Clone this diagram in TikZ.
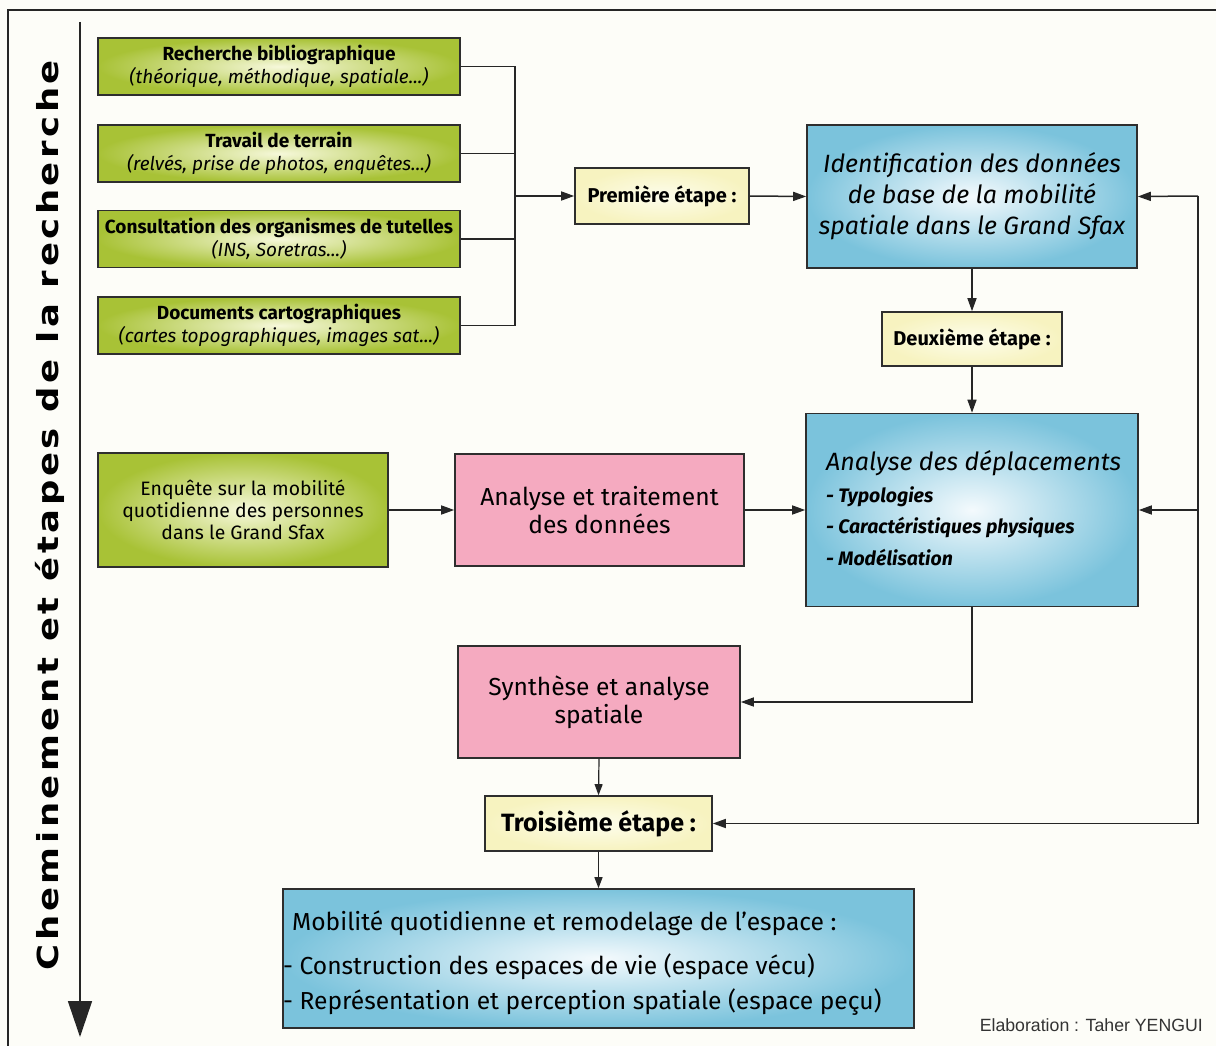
\documentclass[tikz,border=0pt]{standalone}
\usepackage{fontspec}
\setmainfont{Fira Sans}
\newfontfamily\sidefont[LetterSpace=10]{DejaVu Sans}
\newfontfamily\footfont{Liberation Sans}
\usetikzlibrary{arrows.meta}
\definecolor{bgcol}{HTML}{FDFDF8}
\definecolor{boxline}{HTML}{2E2E2E}
\definecolor{greenout}{HTML}{A8C236}
\definecolor{greenin}{HTML}{F6F8DA}
\definecolor{pinkfill}{HTML}{F5AAC0}
\definecolor{blueout}{HTML}{7BC3DC}
\definecolor{bluein}{HTML}{F4FAFD}
\definecolor{yelout}{HTML}{F7F3C0}
\definecolor{yelin}{HTML}{FDFDEC}
\begin{document}
\begin{tikzpicture}[x=1pt,y=-1pt,
  box/.style={draw=boxline, line width=1.6pt, inner sep=0pt, align=center, text=black},
  greenbox/.style={box, inner color=greenin, outer color=greenout, minimum width=362pt, minimum height=57pt, font={\fontsize{19}{23}\selectfont}},
  pinkbox/.style={box, fill=pinkfill, font={\fontsize{24.6}{28}\selectfont}},
  bluebox/.style={box, inner color=bluein, outer color=blueout},
  yelbox/.style={box, inner color=yelin, outer color=yelout, font={\fontsize{20}{24}\selectfont\bfseries}},
  txt/.style={inner sep=0pt, text=black},
  arr/.style={line width=1.5pt, draw=black!85, -{Triangle[length=13pt,width=9pt]}},
  arrs/.style={line width=1.2pt, draw=black!85, -{Triangle[length=11pt,width=8pt]}},
  ln/.style={line width=1.5pt, draw=black!85}
]
\fill[bgcol] (0,0) rectangle (1216,1046);
\useasboundingbox (0,0) rectangle (1216,1046);
% frame
\draw[line width=1.5pt, black!85] (8,1046) -- (8,10) -- (1216,10);
% side axis
\draw[line width=1.6pt, black!85, -{Triangle[length=36pt,width=24pt]}] (80,22) -- (80,1037);
\node[rotate=90, anchor=base, inner sep=0pt] (side) at (58,515)
  {\resizebox{910pt}{\height}{\sidefont\bfseries\fontsize{29}{30}\selectfont Cheminement et étapes de la recherche}};

% green boxes
\node[greenbox] (g1) at (279,66.5) {{\bfseries Recherche bibliographique}\\{\itshape (théorique, méthodique, spatiale...)}};
\node[greenbox] (g2) at (279,153.5) {{\bfseries Travail de terrain}\\{\itshape (relvés, prise de photos, enquêtes...)}};
\node[greenbox] (g3) at (279,239) {{\bfseries Consultation des organismes de tutelles}\\{\itshape (INS, Soretras...)}};
\node[greenbox] (g4) at (279,325.5) {{\bfseries Documents cartographiques}\\{\itshape (cartes topographiques, images sat...)}};
\coordinate (bus) at (515,196);
\draw[ln] (g1.east) -- (g1.east -| bus) -- (g4.east -| bus) -- (g4.east);
\draw[ln] (g2.east) -- (g2.east -| bus);
\draw[ln] (g3.east) -- (g3.east -| bus);

\node[yelbox, minimum width=174pt, minimum height=56pt] (prem) at (662,196) {Première étape :};
\draw[arr] (bus) -- (prem.west);

\node[bluebox, minimum width=330pt, minimum height=143pt, font={\fontsize{25}{31}\selectfont\itshape}] (ident) at (972,196.5)
  {Identification des données\\de base de la mobilité\\spatiale dans le Grand Sfax};
\draw[arr] (prem.east) -- (ident.west);

\node[yelbox, minimum width=180pt, minimum height=54pt] (deux) at (972,339) {Deuxième étape :};
\draw[arr] (ident.south) -- (deux.north);

\node[bluebox, minimum width=332pt, minimum height=193pt] (ana) at (972,510) {};
\node[txt, anchor=base west, align=left, font={\fontsize{19.5}{31.5}\selectfont\bfseries\itshape}] (anatext) at (826,565)
  {{\mdseries\fontsize{25}{28}\selectfont Analyse des déplacements}\\[0pt]
   - Typologies\\ - Caractéristiques physiques\\ - Modélisation};
\draw[arr] (deux.south) -- (ana.north);

\node[greenbox, minimum width=290pt, minimum height=114pt, font={\fontsize{19.4}{22}\selectfont}] (enq) at (243,510)
  {Enquête sur la mobilité\\quotidienne des personnes\\dans le Grand Sfax};
\node[pinkbox, minimum width=289pt, minimum height=112pt] (trait) at (599.5,510) {Analyse et traitement\\des données};
\draw[arr] (enq.east) -- (trait.west);
\draw[arr] (trait.east) -- (ana.west);

\node[pinkbox, minimum width=282pt, minimum height=112pt] (synth) at (599,702) {Synthèse et analyse\\spatiale};
\draw[arr] (ana.south) |- (synth.east);

\node[yelbox, minimum width=227pt, minimum height=55pt, font={\fontsize{25}{28}\selectfont\bfseries}] (troi) at (598.5,823.5) {Troisième étape :};
\draw[arrs] (synth.south) -- (troi.north);

\node[bluebox, minimum width=631pt, minimum height=139pt] (fin) at (598.5,958.5) {};
\node[txt, anchor=base west, align=left, font={\fontsize{24.6}{35}\selectfont}] (fintext) at (292,1009)
  {Mobilité quotidienne et remodelage de l’espace :\\[9pt]
   \hspace*{-9pt}- Construction des espaces de vie (espace vécu)\\
   \hspace*{-9pt}- Représentation et perception spatiale (espace peçu)};
\draw[arrs] (troi.south) -- (fin.north);

% feedback line on the right
\coordinate (fb) at (1198,196);
\draw[ln] (fb) -- (fb |- troi);
\draw[arr] (fb) -- (ident.east);
\draw[arr] (fb |- ana) -- (ana.east);
\draw[arr] (fb |- troi) -- (troi.east);

\node[anchor=base east, inner sep=0pt, font={\footfont\fontsize{17.7}{19}\selectfont}, text=black!80] (foot) at (1203,1031) {Elaboration : Taher YENGUI};
\end{tikzpicture}
\end{document}
